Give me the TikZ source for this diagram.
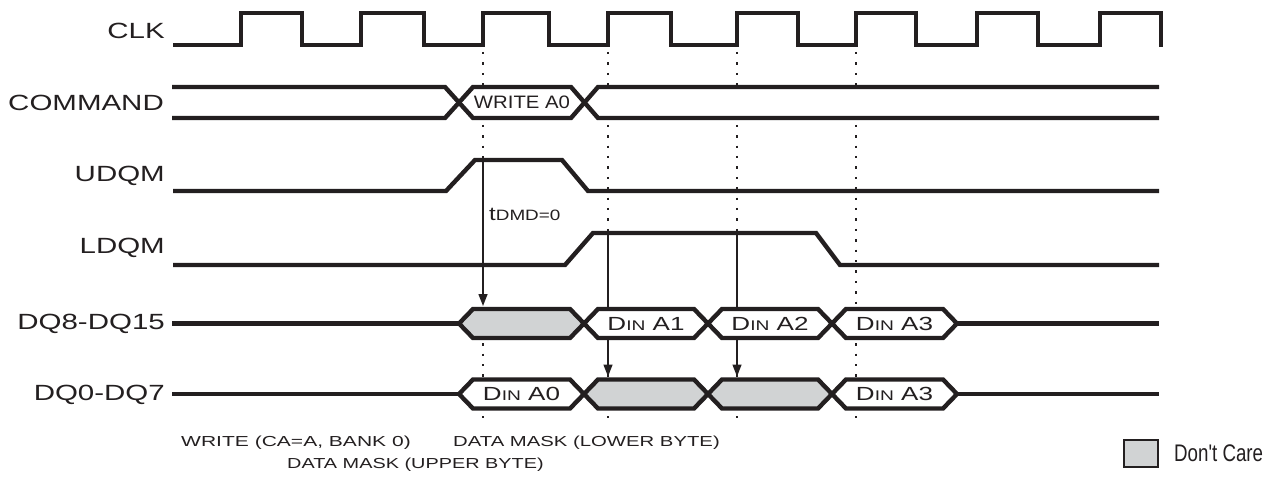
\documentclass[tikz,border=0pt]{standalone}
\usepackage{fontspec}
\setmainfont{Liberation Sans}
\usepackage{graphicx}
\usetikzlibrary{arrows.meta}
\definecolor{dcgray}{RGB}{209,211,212}
\definecolor{ink}{RGB}{35,31,32}
\newcommand{\hs}[2][1.42]{\scalebox{#1}[1]{#2}}
\newcommand{\dinx}[1]{\hs[1.37]{D{\fontsize{14}{14}\selectfont IN} #1}}
% hexagon bus cell: x1, x2, mid, half, fill
\newcommand{\hexa}[5]{\filldraw[sig, fill=#5] (#1,#3) -- ({#1+14},{#3-#4}) -- ({#2-14},{#3-#4}) -- (#2,#3) -- ({#2-14},{#3+#4}) -- ({#1+14},{#3+#4}) -- cycle;}
\begin{document}
\begin{tikzpicture}[x=1pt,y=-1pt,
  sig/.style={line width=4.4pt, draw=ink, line join=miter},
  clkline/.style={line width=4.2pt, draw=ink, line join=miter},
  gridline/.style={line width=2.4pt, draw=ink, dash pattern=on 2.4pt off 8pt},
  marker/.style={line width=1.4pt, draw=ink, -{Triangle[length=12pt,width=9pt]}},
  lbl/.style={font=\fontsize{22}{22}\selectfont, anchor=east, inner sep=0pt, text=ink},
  note/.style={font=\fontsize{14.5}{14.5}\selectfont, anchor=west, inner sep=0pt, text=ink},
  boxtxt/.style={font=\fontsize{19}{19}\selectfont, inner sep=0pt, text=ink},
]
\useasboundingbox (0,0) rectangle (1268,481);

% labels
\node[lbl] (lclk) at (165,31) {\hs[1.34]{CLK}};
\node[lbl] (lcmd) at (164,102.5) {\hs[1.34]{COMMAND}};
\node[lbl] (ludqm) at (165,176) {\hs[1.34]{UDQM}};
\node[lbl] (lldqm) at (165,248) {\hs[1.34]{LDQM}};
\node[lbl] (ldqh) at (165,323.5) {\hs[1.34]{DQ8-DQ15}};
\node[lbl] (ldql) at (165,395) {\hs[1.34]{DQ0-DQ7}};

% dotted clock references
\foreach \x/\n in {483/a,608/b,737/c,856/d}{
  \coordinate (g\n t) at (\x,52);
  \coordinate (g\n b) at (\x,425);
  \draw[gridline] (g\n t) -- (g\n b);
}

% mask arrows
\coordinate (m1s) at (483,160); \coordinate (m1e) at (483,306);
\coordinate (m2s) at (608,233); \coordinate (m2e) at (608,376.5);
\coordinate (m3s) at (737,233); \coordinate (m3e) at (737,376.5);
\draw[marker] (m1s) -- (m1e);
\draw[marker] (m2s) -- (m2e);
\draw[marker] (m3s) -- (m3e);

% CLK
\draw[clkline] (173,45) -- (241,45) -- (241,13) -- (302,13) -- (302,45)
  -- (361,45) -- (361,13) -- (424,13) -- (424,45)
  -- (483,45) -- (483,13) -- (549,13) -- (549,45)
  -- (608,45) -- (608,13) -- (671,13) -- (671,45)
  -- (737,45) -- (737,13) -- (798,13) -- (798,45)
  -- (856,45) -- (856,13) -- (916,13) -- (916,45)
  -- (977,45) -- (977,13) -- (1038,13) -- (1038,45)
  -- (1100,45) -- (1100,13) -- (1161,13) -- (1161,47);

% COMMAND bus
\fill[white] (459,102.5) -- (473,87) -- (571,87) -- (584.5,102.5) -- (571,118) -- (473,118) -- cycle;
\fill[white] (584.5,102.5) -- (598,87) -- (1159,87) -- (1159,118) -- (598,118) -- cycle;
\draw[sig] (172,87) -- (445,87) -- (473,118) -- (571,118) -- (598,87) -- (1159,87);
\draw[sig] (172,118) -- (445,118) -- (473,87) -- (571,87) -- (598,118) -- (1159,118);
\node[boxtxt, font=\fontsize{18}{18}\selectfont] (cw) at (522,102.5) {\hs[1.13]{WRITE A0}};

% UDQM, LDQM
\draw[sig] (173,191) -- (446,191) -- (475,160) -- (562,160) -- (588,191) -- (1159,191);
\draw[sig] (173,265) -- (565,265) -- (593,233) -- (816,233) -- (840,265) -- (1159,265);
\node[anchor=base west, inner sep=0pt, text=ink] (tdmd) at (489,220)
  {\hs[1.26]{{\fontsize{19}{19}\selectfont t}{\fontsize{15}{15}\selectfont DMD=0}}};

% DQ8-DQ15
\draw[sig] (172,323.5) -- (459,323.5);
\hexa{459}{584}{323.5}{14.5}{dcgray}
\hexa{584}{708}{323.5}{14.5}{white}
\hexa{708}{832}{323.5}{14.5}{white}
\hexa{832}{957}{323.5}{14.5}{white}
\draw[sig] (957,323.5) -- (1159,323.5);
\node[boxtxt] (h1) at (646,323.5) {\dinx{A1}};
\node[boxtxt] (h2) at (770,323.5) {\dinx{A2}};
\node[boxtxt] (h3) at (894.5,323.5) {\dinx{A3}};

% DQ0-DQ7
\draw[sig] (172,394) -- (459,394);
\hexa{459}{584}{394}{14.5}{white}
\hexa{584}{708}{394}{14.5}{dcgray}
\hexa{708}{832}{394}{14.5}{dcgray}
\hexa{832}{957}{394}{14.5}{white}
\draw[sig] (957,394) -- (1159,394);
\node[boxtxt] (l0) at (521.5,394) {\dinx{A0}};
\node[boxtxt] (l3) at (894.5,394) {\dinx{A3}};

% notes
\node[note] (nw) at (181,443) {\hs[1.45]{WRITE (CA=A, BANK 0)}};
\node[note] (nl) at (453,443) {\hs[1.40]{DATA MASK (LOWER BYTE)}};
\node[note] (nu) at (287,465) {\hs[1.37]{DATA MASK (UPPER BYTE)}};

% legend
\node[draw=ink, fill=dcgray, line width=2pt, minimum width=34pt, minimum height=27pt, inner sep=0pt] (leg) at (1141,453.5) {};
\node[anchor=west, inner sep=0pt, text=ink, font=\fontsize{24}{24}\selectfont] (legt) at (1174,453.5) {\hs[0.78]{Don\textquotesingle t Care}};
\end{tikzpicture}
\end{document}
